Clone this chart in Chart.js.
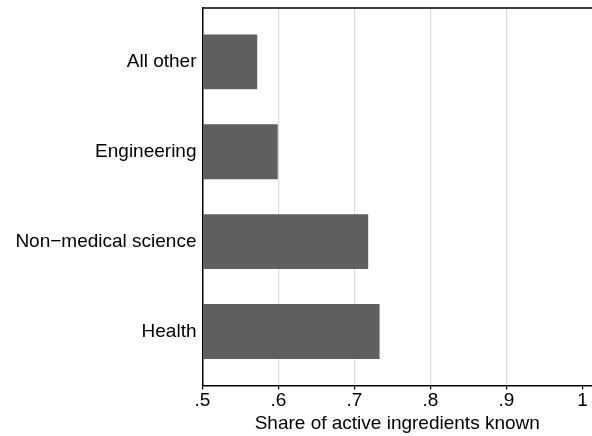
<!DOCTYPE html>
<html>
<head>
<meta charset="utf-8">
<script src="https://cdn.jsdelivr.net/npm/chart.js@4"></script>
<style>
  html, body { margin: 0; padding: 0; background: #fff; }
  #wrap { width: 592px; height: 436px; }
</style>
</head>
<body>
<div id="wrap"><canvas id="chart" width="592" height="436"></canvas></div>
<script>
// categories from top to bottom
const categories = ["All other", "Engineering", "Non\u2212medical science", "Health"];
const shareKnown = [0.572, 0.599, 0.718, 0.733];
const xTicks = [0.5, 0.6, 0.7, 0.8, 0.9, 1];
const xTickLabels = [".5", ".6", ".7", ".8", ".9", "1"];
const axisTitle = "Share of active ingredients known";

// bottom category sits at position 1, top one at categories.length
const pos = (i) => categories.length - i;
const points = shareKnown.map((v, i) => ({ x: v, y: pos(i) }));

const font = { family: "'Liberation Sans', Arial, sans-serif", size: 19 };

const topLine = {
  id: "topLine",
  afterDraw(chart) {
    const { ctx, chartArea } = chart;
    ctx.save();
    ctx.strokeStyle = "#000";
    ctx.lineWidth = 1.5;
    ctx.beginPath();
    ctx.moveTo(chartArea.left, chartArea.top);
    ctx.lineTo(chart.width, chartArea.top);
    ctx.stroke();
    ctx.restore();
  },
};

const ctx = document.getElementById("chart").getContext("2d");
new Chart(ctx, {
  type: "bar",
  data: {
    datasets: [
      {
        data: points,
        base: 0.5,
        backgroundColor: "#5f5f5f",
        borderWidth: 0,
        categoryPercentage: 1,
        barPercentage: 0.61,
      },
    ],
  },
  options: {
    indexAxis: "y",
    responsive: false,
    animation: false,
    layout: { padding: { left: 0, right: 0, top: 8, bottom: 0 } },
    plugins: {
      legend: { display: false },
      tooltip: { enabled: false },
    },
    scales: {
      x: {
        type: "linear",
        min: 0.5,
        max: 1.0125,
        afterBuildTicks: (scale) => {
          scale.ticks = xTicks.map((v) => ({ value: v }));
        },
        ticks: {
          color: "#000",
          font: font,
          padding: 0,
          maxRotation: 0,
          callback: (v) => {
            const i = xTicks.findIndex((t) => Math.abs(t - v) < 1e-9);
            return i >= 0 ? xTickLabels[i] : "";
          },
        },
        grid: {
          color: (c) => {
            const v = c.tick ? c.tick.value : null;
            return v === null || v <= 0.5 || v >= 1 ? "rgba(0,0,0,0)" : "#dadada";
          },
          lineWidth: 1.2,
          tickColor: "#000",
          tickLength: 4,
          drawOnChartArea: true,
        },
        border: { color: "#000", width: 1.5 },
        title: {
          display: true,
          text: axisTitle,
          color: "#000",
          font: font,
          padding: { top: 0, bottom: 1 },
        },
      },
      y: {
        type: "linear",
        offset: false,
        min: 0.4,
        max: 4.6,
        afterBuildTicks: (scale) => {
          scale.ticks = categories.map((c, i) => ({ value: pos(i) }));
        },
        afterFit: (scale) => {
          scale.width = 202.5;
          scale.paddingTop = 0;
          scale.paddingBottom = 0;
        },
        ticks: {
          color: "#000",
          font: font,
          padding: 6,
          callback: (v) => {
            const i = categories.length - Math.round(v);
            return categories[i] || "";
          },
        },
        grid: { display: false, drawTicks: false },
        border: { color: "#000", width: 1.5 },
      },
    },
  },
  plugins: [topLine],
});
</script>
</body>
</html>
